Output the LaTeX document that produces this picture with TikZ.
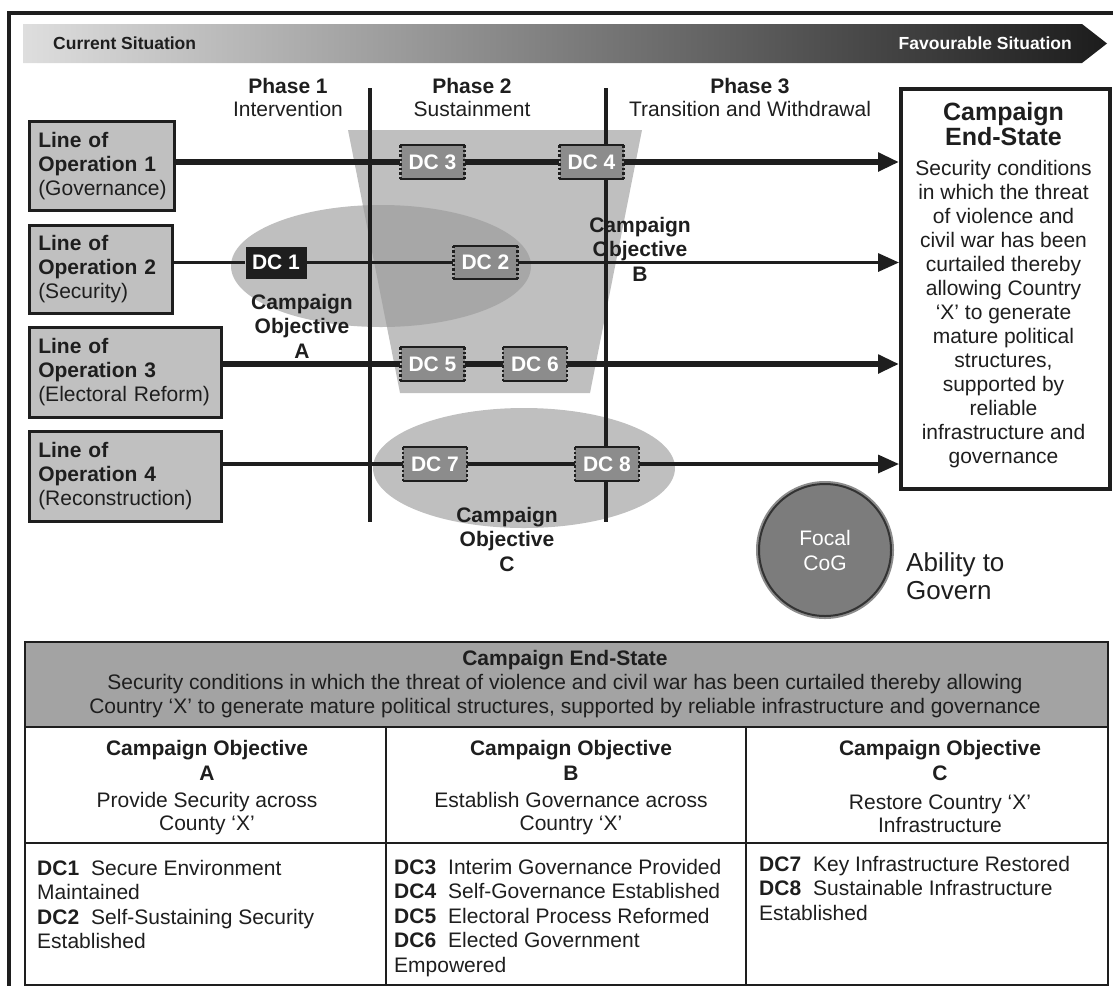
\documentclass[tikz,border=0pt]{standalone}
\usepackage{fontspec}
\setmainfont{Liberation Sans}
\usetikzlibrary{arrows.meta,calc}
\definecolor{ink}{HTML}{1E1E1E}
\definecolor{boxgray}{HTML}{C0C0C0}
\definecolor{zonegray}{HTML}{BFBFBF}
\definecolor{overlapgray}{HTML}{A7A7A7}
\definecolor{dcgray}{HTML}{8C8C8C}
\definecolor{headgray}{HTML}{A3A3A3}
\definecolor{coggray}{HTML}{7C7C7C}
\definecolor{barlight}{HTML}{DEDEDE}
\definecolor{bardark}{HTML}{1C1C1C}
\newcommand\fsz[2]{\fontsize{#1}{#2}\selectfont}

\begin{document}
\begin{tikzpicture}[x=1pt,y=-1pt,
  every node/.style={inner sep=0pt, text=ink},
  loobox/.style={draw=ink, line width=2.5pt, fill=boxgray, anchor=north west, align=left, inner xsep=9pt, font=\fsz{21}{24}},
  dcbox/.style={fill=dcgray, minimum width=64pt, minimum height=33pt, text=white, font=\bfseries\fsz{21}{24}},
  dcedge/.style={draw=ink, line width=2pt},
  dcside/.style={draw=ink, line width=2.5pt, dash pattern=on 2.5pt off 2pt},
  thickflow/.style={draw=ink, line width=6pt},
  thinflow/.style={draw=ink, line width=3.3pt},
  tip/.style={-{Triangle[length=21pt,width=18pt]}},
  phase/.style={font=\fsz{21}{23}, align=center},
  objlabel/.style={font=\bfseries\fsz{21}{24.5}, align=center},
  cell/.style={font=\fsz{21}{24.5}, align=left, anchor=north west},
  grid/.style={draw=ink, line width=2pt},
]
\useasboundingbox (0,0) rectangle (1113,986);

% outer frame
\draw[ink, line width=3.5pt] (1113,13) -- (9,13) -- (9,986);

% progress bar
\shade[left color=barlight, right color=bardark] (23,24) -- (1082,24) -- (1107,43.5) -- (1082,63) -- (23,63) -- cycle;
\node[font=\bfseries\fsz{17.5}{20}, anchor=west] (cur) at (53,43.5) {Current Situation};
\node[font=\bfseries\fsz{17.5}{20}, anchor=east, text=white] (fav) at (1072,43.5) {Favourable Situation};

% phase headings
\node[phase] (ph1) at (288,97) {\textbf{Phase 1}\\Intervention};
\node[phase] (ph2) at (472,97) {\textbf{Phase 2}\\Sustainment};
\node[phase] (ph3) at (750,97) {\textbf{Phase 3}\\Transition and Withdrawal};

% objective zones
\fill[zonegray] (348,130) -- (642,130) -- (590,393) -- (400,393) -- cycle;
\fill[zonegray] (381,266) ellipse [x radius=150, y radius=61];
\begin{scope}
  \clip (348,130) -- (642,130) -- (590,393) -- (400,393) -- cycle;
  \fill[overlapgray] (381,266) ellipse [x radius=150, y radius=61];
\end{scope}
\fill[zonegray] (524,468) ellipse [x radius=151, y radius=60];

% phase boundaries
\coordinate (v1t) at (370,88); \coordinate (v1b) at (370,522);
\coordinate (v2t) at (606,88); \coordinate (v2b) at (606,522);
\draw[ink, line width=3.5pt] (v1t) -- (v1b);
\draw[ink, line width=3.5pt] (v2t) -- (v2b);

% lines of operation
\node[loobox, text width=127pt, minimum height=89pt] (lo1) at (28,120) {\textbf{Line of}\\\textbf{Operation 1}\\(Governance)};
\node[loobox, text width=125pt, minimum height=88pt] (lo2) at (28,224) {\textbf{Line of}\\\textbf{Operation 2}\\(Security)};
\node[loobox, text width=174pt, minimum height=90pt] (lo3) at (28,326) {\textbf{Line of}\\\textbf{Operation 3}\\(Electoral Reform)};
\node[loobox, text width=174pt, minimum height=90pt] (lo4) at (28,430) {\textbf{Line of}\\\textbf{Operation 4}\\(Reconstruction)};

% end-state
\node[draw=ink, line width=4pt, fill=white, anchor=north west, minimum width=209pt, minimum height=400pt] (es) at (899,87) {};
\node[font=\bfseries\fsz{25}{25}, align=center] (estitle) at (1003.5,124) {Campaign\\End-State};
\node[font=\fsz{21}{24}, align=center] (esbody) at (1003.5,314) {Security conditions\\in which the threat\\of violence and\\civil war has been\\curtailed thereby\\allowing Country\\‘X’ to generate\\mature political\\structures,\\supported by\\reliable\\infrastructure and\\governance};

% decisive conditions
\node[dcbox] (dc3) at (432.5,162) {DC 3};
\node[dcbox] (dc4) at (591.5,162) {DC 4};
\node[dcbox, fill=ink, minimum width=61pt, minimum height=32pt] (dc1) at (276,262.5) {DC 1};
\node[dcbox] (dc2) at (485.5,262.5) {DC 2};
\node[dcbox] (dc5) at (432.5,364) {DC 5};
\node[dcbox] (dc6) at (535,364) {DC 6};
\node[dcbox] (dc7) at (435,464) {DC 7};
\node[dcbox] (dc8) at (607,464) {DC 8};
\foreach \n in {dc2,dc3,dc4,dc5,dc6,dc7,dc8}{
  \draw[dcedge] (\n.north west) -- (\n.north east);
  \draw[dcedge] (\n.south west) -- (\n.south east);
  \draw[dcside] (\n.north west) -- (\n.south west);
  \draw[dcside] (\n.north east) -- (\n.south east);
}

% flows
\draw[thickflow] (lo1.east |- dc3.west) -- (dc3.west);
\draw[thickflow] (dc3.east) -- (dc4.west);
\draw[thickflow, tip] (dc4.east) -- (dc4.east -| es.west);
\draw[thinflow] (lo2.east |- dc1.west) -- (dc1.west);
\draw[thinflow] (dc1.east) -- (dc2.west);
\draw[thinflow, tip] (dc2.east) -- (dc2.east -| es.west);
\draw[thickflow] (lo3.east |- dc5.west) -- (dc5.west);
\draw[thickflow] (dc5.east) -- (dc6.west);
\draw[thickflow, tip] (dc6.east) -- (dc6.east -| es.west);
\draw[thinflow] (lo4.east |- dc7.west) -- (dc7.west);
\draw[thinflow] (dc7.east) -- (dc8.west);
\draw[thinflow, tip] (dc8.east) -- (dc8.east -| es.west);

% objective labels
\node[objlabel] (objA) at (302,326) {Campaign\\Objective\\A};
\node[objlabel] (objB) at (640,249) {Campaign\\Objective\\B};
\node[objlabel] (objC) at (507,539) {Campaign\\Objective\\C};

% centre of gravity
\node[circle, preaction={draw=black!45, line width=6pt}, draw=black!80, line width=2pt, fill=coggray, minimum size=132pt, text=white, font=\fsz{21}{25}, align=center] (cog) at (825,550) {Focal\\CoG};
\node[font=\fsz{26}{28}, align=left, anchor=west] (abil) at (906,576) {Ability to\\Govern};

% summary table
\draw[grid, fill=headgray] (25,642) rectangle (1108,727);
\draw[grid] (25,727) rectangle (1108,985);
\draw[grid] (25,843) -- (1108,843);
\draw[grid] (386,727) -- (386,985);
\draw[grid] (746,727) -- (746,985);

\node[font=\fsz{21}{24}, align=center] (tbhead) at (565,684) {\textbf{Campaign End-State}\\Security conditions in which the threat of violence and civil war has been curtailed thereby allowing\\Country ‘X’ to generate mature political structures, supported by reliable infrastructure and governance};

\node[font=\bfseries\fsz{21}{25}, align=center] (coA) at (207,760) {Campaign Objective\\A};
\node[font=\fsz{21}{23}, align=center] (deA) at (207,814) {Provide Security across\\County ‘X’};
\node[font=\bfseries\fsz{21}{25}, align=center] (coB) at (571,760) {Campaign Objective\\B};
\node[font=\fsz{21}{23}, align=center] (deB) at (571,814) {Establish Governance across\\Country ‘X’};
\node[font=\bfseries\fsz{21}{25}, align=center] (coC) at (940,760) {Campaign Objective\\C};
\node[font=\fsz{21}{23}, align=center] (deC) at (940,814) {Restore Country ‘X’\\Infrastructure};

\node[cell] (dcA) at (37,860) {\textbf{DC1}\hspace{12pt}Secure Environment\\Maintained\\\textbf{DC2}\hspace{12pt}Self-Sustaining Security\\Established};
\node[cell] (dcB) at (394,859) {\textbf{DC3}\hspace{12pt}Interim Governance Provided\\\textbf{DC4}\hspace{12pt}Self-Governance Established\\\textbf{DC5}\hspace{12pt}Electoral Process Reformed\\\textbf{DC6}\hspace{12pt}Elected Government\\Empowered};
\node[cell] (dcC) at (759,856) {\textbf{DC7}\hspace{12pt}Key Infrastructure Restored\\\textbf{DC8}\hspace{12pt}Sustainable Infrastructure\\Established};
\end{tikzpicture}
\end{document}
